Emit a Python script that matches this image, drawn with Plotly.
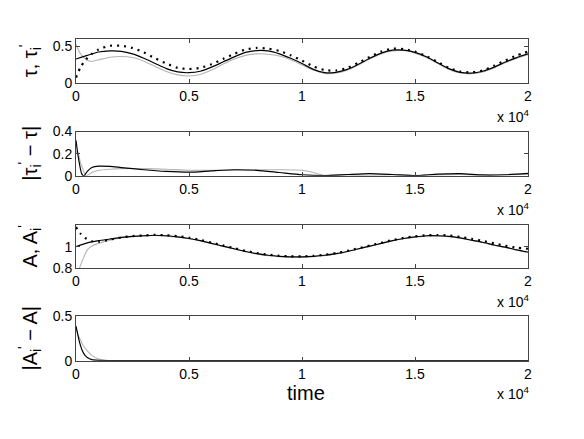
import plotly.graph_objects as go

# time axis (raw units, labels shown in units of 10^4)
t_main = [0, 500, 1000, 1500, 2000, 2500, 3000, 3500, 4000, 4500, 5000, 5500, 6000,
          6500, 7000, 7500, 8000, 8500, 9000, 9500, 10000, 10500, 11000, 11500, 12000,
          12500, 13000, 13500, 14000, 14500, 15000, 15500, 16000, 16500, 17000, 17500,
          18000, 18500, 19000, 19500, 20000]

# panel 1: tau (black), tau_i' estimates (dotted black, gray)
tau = [0.33, 0.38, 0.425, 0.44, 0.435, 0.40, 0.34, 0.27, 0.20, 0.155, 0.145, 0.165,
       0.22, 0.29, 0.36, 0.42, 0.445, 0.44, 0.40, 0.34, 0.27, 0.19, 0.145, 0.15, 0.19,
       0.26, 0.34, 0.41, 0.45, 0.45, 0.42, 0.36, 0.28, 0.20, 0.15, 0.14, 0.165, 0.22,
       0.29, 0.35, 0.40]

t_tau_dot = [0, 200, 400, 700] + t_main[2:]
tau_dot = [0.08, 0.22, 0.31, 0.40, 0.46, 0.51, 0.51, 0.48, 0.42, 0.34, 0.27, 0.21,
           0.195, 0.21, 0.26, 0.33, 0.40, 0.46, 0.48, 0.47, 0.44, 0.38, 0.31, 0.23,
           0.18, 0.175, 0.21, 0.28, 0.36, 0.43, 0.47, 0.465, 0.43, 0.37, 0.29, 0.21,
           0.16, 0.15, 0.175, 0.24, 0.31, 0.38, 0.43]

t_tau_gray = [0, 200, 500, 700] + t_main[2:]
tau_gray = [0.53, 0.40, 0.31, 0.30, 0.32, 0.355, 0.365, 0.35, 0.30, 0.23, 0.16, 0.115,
            0.10, 0.12, 0.18, 0.26, 0.33, 0.38, 0.40, 0.395, 0.37, 0.32, 0.25, 0.18,
            0.135, 0.14, 0.18, 0.25, 0.33, 0.40, 0.44, 0.445, 0.41, 0.35, 0.27, 0.19,
            0.14, 0.13, 0.155, 0.21, 0.28, 0.34, 0.39]

# panel 2: |tau_i' - tau|
t_err_tau_k = [0, 100, 250, 350, 500, 700, 1000, 1500, 2000, 3000, 4000, 5000, 6000,
               7000, 8000, 9000, 10000, 11000, 12000, 13000, 14000, 15000, 16000,
               17000, 18000, 19000, 20000]
err_tau_k = [0.32, 0.17, 0.02, 0.0, 0.04, 0.075, 0.088, 0.085, 0.075, 0.055, 0.04,
             0.033, 0.045, 0.055, 0.05, 0.03, 0.01, 0.003, 0.012, 0.02, 0.012, 0.002,
             0.015, 0.02, 0.008, 0.01, 0.022]
t_err_tau_g = [0, 100, 200, 450, 700, 1000, 1500, 2000, 3000, 4000, 5000, 6000, 7000,
               8000, 9000, 10000, 10500, 11000, 12000, 13000, 14000, 15000, 16000,
               17000, 18000, 19000, 20000]
err_tau_g = [0.22, 0.20, 0.12, 0.0, 0.03, 0.05, 0.06, 0.065, 0.065, 0.06, 0.05, 0.05,
             0.05, 0.055, 0.055, 0.05, 0.03, 0.005, 0.008, 0.005, 0.01, 0.005, 0.008,
             0.012, 0.006, 0.01, 0.012]

# panel 3: A (black), A_i' estimates (dotted black, gray)
amp = [1.00, 1.035, 1.055, 1.07, 1.085, 1.095, 1.10, 1.105, 1.10, 1.09, 1.075, 1.055,
       1.03, 1.005, 0.98, 0.955, 0.935, 0.92, 0.91, 0.905, 0.905, 0.91, 0.92, 0.935,
       0.955, 0.98, 1.005, 1.03, 1.055, 1.075, 1.09, 1.10, 1.10, 1.095, 1.08, 1.06,
       1.04, 1.015, 0.995, 0.97, 0.95]

t_amp_dot = [0, 200, 400, 700] + t_main[2:]
amp_dot = [1.18, 1.12, 1.08, 1.05, 1.045, 1.065, 1.085, 1.097, 1.103, 1.108, 1.105,
           1.096, 1.082, 1.062, 1.037, 1.011, 0.986, 0.961, 0.941, 0.926, 0.915, 0.91,
           0.91, 0.915, 0.925, 0.94, 0.96, 0.985, 1.01, 1.035, 1.06, 1.08, 1.095,
           1.105, 1.107, 1.103, 1.09, 1.072, 1.053, 1.03, 1.008, 0.99, 0.98]

t_amp_gray = [150, 300, 500, 700] + t_main[2:]
amp_gray = [0.80, 0.88, 0.97, 1.005, 1.03, 1.06, 1.08, 1.092, 1.098, 1.102, 1.097,
            1.087, 1.072, 1.052, 1.027, 1.002, 0.977, 0.952, 0.932, 0.917, 0.907,
            0.902, 0.902, 0.907, 0.917, 0.932, 0.952, 0.977, 1.002, 1.027, 1.052,
            1.072, 1.087, 1.097, 1.097, 1.092, 1.077, 1.057, 1.037, 1.012, 0.992,
            0.967, 0.947]

# panel 4: |A_i' - A|
t_err_a_k = [0, 100, 200, 300, 400, 500, 700, 1000, 1500, 2000, 5000, 10000, 15000, 20000]
err_a_k = [0.39, 0.27, 0.17, 0.10, 0.06, 0.035, 0.012, 0.004, 0.002, 0.001, 0.001,
           0.001, 0.001, 0.001]
t_err_a_g = [0, 100, 200, 300, 500, 700, 1000, 1300, 2000, 5000, 10000, 15000, 20000]
err_a_g = [0.36, 0.29, 0.23, 0.18, 0.11, 0.06, 0.02, 0.006, 0.002, 0.001, 0.001,
           0.001, 0.001]

x_ticks = [0, 5000, 10000, 15000, 20000]
x_ticktext = ['0', '0.5', '1', '1.5', '2']

# the page body adds an 8px offset, so the figure is drawn 8px smaller
W, H = 576.0, 431.0
L, PW = 68, 452
FONT = 'Liberation Sans, Arial, sans-serif'
BLACK = '#000000'
GRAY = '#b4b4b4'
DOTS = '2px,5px'

# pixel rows of each panel (top, bottom), figure coords
panels = [(24, 70), (120, 166), (217, 262), (312, 358)]
y_ranges = [[0, 0.6], [0, 0.4], [0.8, 1.2], [0, 0.5]]
y_ticks = [[0, 0.5], [0, 0.2, 0.4], [0.8, 1], [0, 0.5]]
y_titles = ["τ, τ<sub>i</sub><sup>'</sup>", "|τ<sub>i</sub><sup>'</sup> − τ|",
            "A, A<sub>i</sub><sup>'</sup>", "|A<sub>i</sub><sup>'</sup> − A|"]

fig = go.Figure()

def add(t, y, n, color, width=1.2, dash=None):
    fig.add_trace(go.Scatter(
        x=t, y=y, mode='lines', xaxis='x' if n == 1 else 'x%d' % n,
        yaxis='y' if n == 1 else 'y%d' % n,
        line=dict(color=color, width=width, dash=dash, shape='spline', smoothing=0.6),
        showlegend=False, hoverinfo='skip'))

add(t_tau_gray, tau_gray, 1, GRAY, 1.1)
add(t_main, tau, 1, BLACK, 1.2)
add(t_tau_dot, tau_dot, 1, BLACK, 2.2, DOTS)
add(t_err_tau_g, err_tau_g, 2, GRAY, 1.1)
add(t_err_tau_k, err_tau_k, 2, BLACK, 1.2)
add(t_amp_gray, amp_gray, 3, GRAY, 1.1)
add(t_main, amp, 3, BLACK, 1.2)
add(t_amp_dot, amp_dot, 3, BLACK, 2.2, DOTS)
add(t_err_a_g, err_a_g, 4, GRAY, 1.1)
add(t_err_a_k, err_a_k, 4, BLACK, 1.2)

axis_common = dict(showgrid=False, zeroline=False, showline=True, linecolor='#444444',
                   linewidth=1, mirror='allticks', ticks='inside', ticklen=4,
                   tickcolor='#444444', tickfont=dict(family=FONT, size=14, color='black'))

layout = dict(width=W, height=H, plot_bgcolor='white', paper_bgcolor='white',
              margin=dict(l=L, r=W - L - PW, t=0, b=0), annotations=[])

for i, (top, bot) in enumerate(panels):
    n = i + 1
    xk = 'xaxis' if n == 1 else 'xaxis%d' % n
    yk = 'yaxis' if n == 1 else 'yaxis%d' % n
    dom = [1 - bot / H, 1 - top / H]
    layout[xk] = dict(axis_common, domain=[0, 1], range=[0, 20000], tickvals=x_ticks,
                      ticktext=x_ticktext, anchor='y' if n == 1 else 'y%d' % n)
    layout[yk] = dict(axis_common, domain=dom, range=y_ranges[i], tickvals=y_ticks[i],
                      ticktext=[('%g' % v) for v in y_ticks[i]],
                      anchor='x' if n == 1 else 'x%d' % n)
    layout['annotations'].append(dict(
        text=y_titles[i], xref='paper', yref='paper', x=(22 - L) / float(PW),
        y=1 - (top + bot) / 2 / H, xanchor='center', yanchor='middle', textangle=-90,
        showarrow=False, font=dict(family=FONT, size=20, color='black')))
    layout['annotations'].append(dict(
        text='x 10<sup>4</sup>', xref='paper', yref='paper', x=(523 - L) / float(PW),
        y=1 - (bot + 34) / H, xanchor='right', yanchor='middle', showarrow=False,
        font=dict(family=FONT, size=14, color='black')))

layout['annotations'].append(dict(
    text='time', xref='paper', yref='paper', x=(298 - L) / float(PW), y=1 - 392 / H,
    xanchor='center', yanchor='middle', showarrow=False,
    font=dict(family=FONT, size=20, color='black')))

fig.update_layout(**layout)
fig.write_html("out.html")
